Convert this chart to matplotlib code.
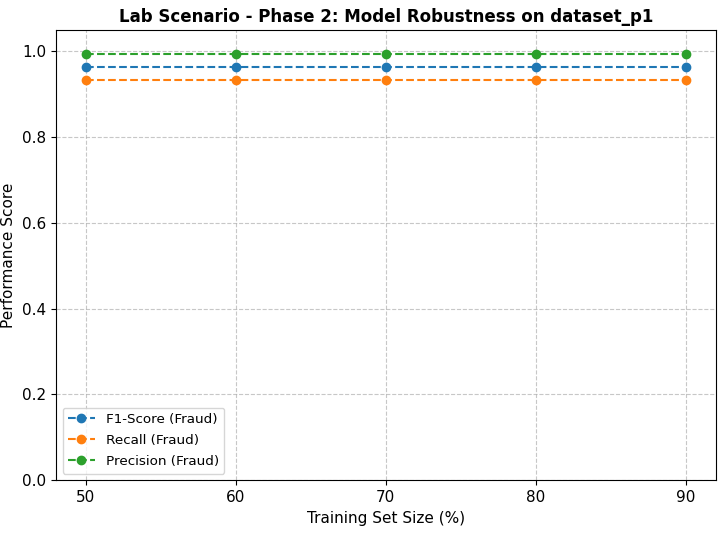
import matplotlib
matplotlib.use("Agg")
import matplotlib.pyplot as plt

train_sizes = [50, 60, 70, 80, 90]
f1_fraud = [0.964, 0.964, 0.964, 0.964, 0.964]
recall_fraud = [0.933, 0.933, 0.933, 0.933, 0.933]
precision_fraud = [0.993, 0.993, 0.993, 0.993, 0.993]


def get_graph():
    fig, ax = plt.subplots(figsize=(7.26, 5.36), dpi=100)
    ax.plot(train_sizes, f1_fraud, marker="o", linestyle="--", label="F1-Score (Fraud)")
    ax.plot(train_sizes, recall_fraud, marker="o", linestyle="--", label="Recall (Fraud)")
    ax.plot(train_sizes, precision_fraud, marker="o", linestyle="--", label="Precision (Fraud)")
    ax.set_title("Lab Scenario - Phase 2: Model Robustness on dataset_p1",
                 fontsize=12, fontweight="bold")
    ax.set_xlabel("Training Set Size (%)", fontsize=11)
    ax.set_ylabel("Performance Score", fontsize=11)
    ax.set_xticks(train_sizes)
    ax.set_ylim(0, 1.05)
    ax.tick_params(labelsize=11)
    ax.grid(True, linestyle="--", alpha=0.7)
    ax.legend(loc="lower left", fontsize=9.7, labelspacing=0.6)
    fig.subplots_adjust(left=0.077, right=0.986, top=0.944, bottom=0.104)
    fig.savefig("out.png")


if __name__ == '__main__':
    get_graph()
